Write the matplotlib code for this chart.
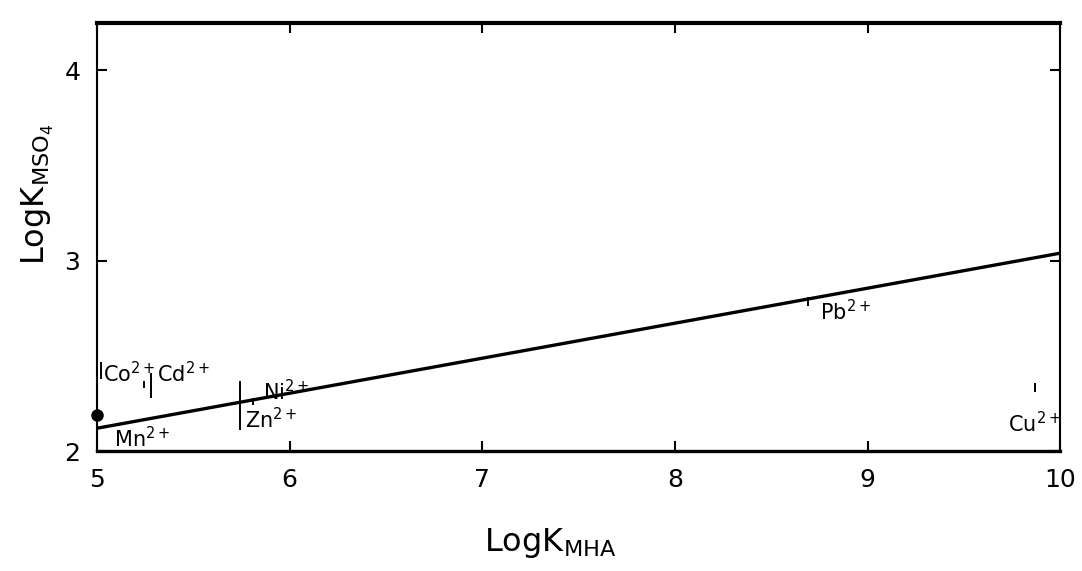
import matplotlib
matplotlib.use("Agg")
import matplotlib.pyplot as plt

# regression line end points
fit_x = [5.0, 10.0]
fit_y = [2.12, 3.04]

# vertical range bars for each metal ion
bar_x = [5.00, 5.02, 5.245, 5.28, 5.74, 5.81, 8.69, 9.87]
bar_lo = [2.00, 2.38, 2.33, 2.28, 2.11, 2.24, 2.76, 2.31]
bar_hi = [2.13, 2.47, 2.37, 2.41, 2.37, 2.28, 2.81, 2.36]

# filled point
dot_x = [5.0]
dot_y = [2.19]

# ion labels
ion_names = ["Co", "Cd", "Ni", "Zn", "Mn", "Pb", "Cu"]
ion_x = [5.03, 5.31, 5.86, 5.77, 5.09, 8.75, 9.73]
ion_y = [2.36, 2.36, 2.27, 2.12, 2.02, 2.69, 2.10]

fig = plt.figure(figsize=(10.82, 5.71), dpi=100)
ax = fig.add_axes([0.0896, 0.21, 0.8904, 0.75])

ax.plot(fit_x, fit_y, color="black", linewidth=2.4, solid_capstyle="butt")
ax.vlines(bar_x, bar_lo, bar_hi, color="black", linewidth=1.4)
ax.plot(dot_x, dot_y, "o", color="black", markersize=8, clip_on=False, zorder=5)

for name, xi, yi in zip(ion_names, ion_x, ion_y):
    ax.text(xi, yi, rf"$\mathregular{{{name}^{{2+}}}}$", fontsize=15,
            ha="left", va="baseline", color="black")

ax.set_xlim(5, 10)
ax.set_ylim(2, 4.25)
ax.set_xticks([5, 6, 7, 8, 9, 10])
ax.set_yticks([2, 3, 4])
ax.tick_params(direction="in", length=7, width=1.5, labelsize=18, pad=12,
               top=True, right=True)
for side in ["left", "right"]:
    ax.spines[side].set_linewidth(1.5)
ax.spines["bottom"].set_linewidth(2.4)
ax.spines["top"].set_linewidth(3.0)

ax.set_xlabel(r"$\mathregular{LogK_{MHA}}$", fontsize=23)
ax.xaxis.set_label_coords(0.47, -0.175)
ax.set_ylabel(r"$\mathregular{LogK_{MSO_4}}$", fontsize=23)
ax.yaxis.set_label_coords(-0.042, 0.6)

fig.savefig("out.png", dpi=100)
